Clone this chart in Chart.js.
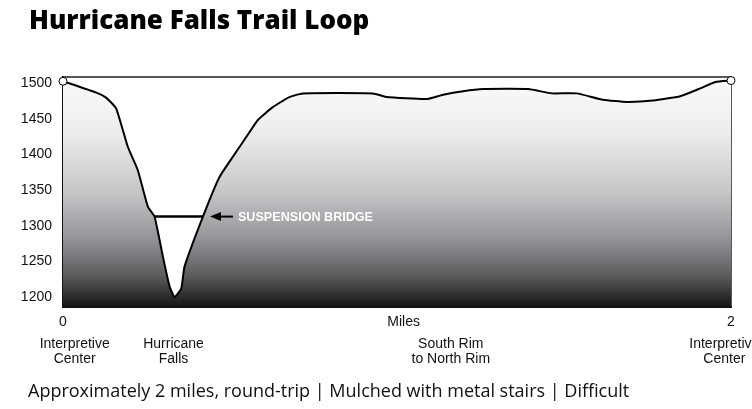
<!DOCTYPE html>
<html>
<head>
<meta charset="utf-8">
<title>Hurricane Falls Trail Loop</title>
<script src="https://cdn.jsdelivr.net/npm/chart.js@4.4.1/dist/chart.umd.min.js"></script>
<style>
  html, body { margin: 0; padding: 0; background: #fff; }
  #wrap { position: relative; width: 752px; height: 409px; overflow: hidden; }
  #chart { position: absolute; left: 0; top: 0; }
  #title {
    position: absolute; left: 29px; top: 6px;
    font: 800 26px "Open Sans", sans-serif; line-height: 1;
    white-space: nowrap; color: #000;
  }
  #footer {
    position: absolute; left: 28px; top: 381px;
    font: 400 18px "Open Sans", sans-serif; line-height: 1;
    white-space: nowrap; color: #111;
  }
</style>
</head>
<body>
<div id="wrap">
  <canvas id="chart" width="752" height="409"></canvas>
  <div id="title">Hurricane Falls Trail Loop</div>
  <div id="footer">Approximately 2 miles, round-trip | Mulched with metal stairs | Difficult</div>
</div>
<script>
// elevation profile (miles along the loop, feet)
const miles = [0, 0.1, 0.129, 0.159, 0.194, 0.224, 0.254, 0.274, 0.299, 0.319, 0.334, 0.354, 0.364,
  0.419, 0.469, 0.529, 0.559, 0.584, 0.629, 0.679, 0.718, 0.928, 0.968, 1.088, 1.138, 1.198, 1.258,
  1.393, 1.463, 1.538, 1.617, 1.688, 1.767, 1.848, 1.908, 1.953, 2.0];
const elevation = [1503, 1487, 1480, 1465, 1411, 1378, 1327, 1313, 1257, 1215, 1200, 1212, 1243,
  1313, 1369, 1411, 1432, 1449, 1467, 1481, 1486, 1486, 1481, 1478, 1484, 1489, 1492,
  1492, 1486, 1486, 1477, 1474, 1476, 1482, 1493, 1502, 1504];

const bridgeMiles = [0.274, 0.419];
const bridgeElevation = [1313, 1313];
const calloutText = 'SUSPENSION BRIDGE';
const calloutMiles = 0.44;
const calloutElevation = 1313;

const yTicks = [1200, 1250, 1300, 1350, 1400, 1450, 1500];
const mileTicks = [0, 1.02, 2];
const mileLabels = ['0', 'Miles', '2'];
const placeMiles = [0.035, 0.331, 1.161, 1.98];
const placeLabels = [
  ['Interpretive', 'Center'],
  ['Hurricane', 'Falls'],
  ['South Rim', 'to North Rim'],
  ['Interpretive', 'Center'],
];

const axisFont = { family: '"Liberation Sans", Arial, sans-serif', size: 14 };

function fillGradient(context) {
  const area = context.chart.chartArea;
  if (!area) return '#999';
  const g = context.chart.ctx.createLinearGradient(0, area.top, 0, area.bottom);
  g.addColorStop(0, '#fbfbfb');
  g.addColorStop(0.25, '#ebecec');
  g.addColorStop(0.5, '#c4c6c8');
  g.addColorStop(0.7, '#939598');
  g.addColorStop(0.87, '#58595b');
  g.addColorStop(1, '#141414');
  return g;
}

const framePlugin = {
  id: 'frame',
  beforeDatasetsDraw(chart) {
    const { ctx, chartArea: a } = chart;
    ctx.save();
    ctx.strokeStyle = '#222';
    ctx.lineWidth = 1.5;
    ctx.beginPath();
    ctx.moveTo(a.left, a.top);
    ctx.lineTo(a.right, a.top);
    ctx.lineTo(a.right, a.bottom);
    ctx.stroke();
    ctx.restore();
  },
  afterDatasetsDraw(chart) {
    const { ctx, scales } = chart;
    const tipX = scales.x.getPixelForValue(calloutMiles);
    const tipY = scales.y.getPixelForValue(calloutElevation);
    ctx.save();
    ctx.fillStyle = '#000';
    ctx.strokeStyle = '#000';
    ctx.lineWidth = 2;
    ctx.beginPath();
    ctx.moveTo(tipX, tipY);
    ctx.lineTo(tipX + 11, tipY - 4.5);
    ctx.lineTo(tipX + 11, tipY + 4.5);
    ctx.closePath();
    ctx.fill();
    ctx.beginPath();
    ctx.moveTo(tipX + 9, tipY);
    ctx.lineTo(tipX + 23, tipY);
    ctx.stroke();
    ctx.fillStyle = '#fff';
    ctx.font = 'bold 12.6px "Liberation Sans", Arial, sans-serif';
    ctx.textBaseline = 'middle';
    ctx.fillText(calloutText, tipX + 28, tipY + 0.5);
    ctx.restore();
  },
};

new Chart(document.getElementById('chart'), {
  type: 'line',
  data: {
    datasets: [
      {
        label: 'Elevation',
        data: miles.map((m, i) => ({ x: m, y: elevation[i] })),
        borderColor: '#000',
        borderWidth: 2,
        backgroundColor: fillGradient,
        fill: 'start',
        tension: 0.15,
        pointRadius: (c) => (c.dataIndex === 0 || c.dataIndex === miles.length - 1 ? 4 : 0),
        pointBackgroundColor: '#fff',
        pointBorderColor: '#000',
        pointBorderWidth: 1,
        clip: false,
      },
      {
        label: 'Bridge',
        data: bridgeMiles.map((m, i) => ({ x: m, y: bridgeElevation[i] })),
        borderColor: '#000',
        borderWidth: 2.5,
        fill: false,
        pointRadius: 0,
      },
    ],
  },
  options: {
    responsive: false,
    animation: false,
    layout: { padding: { left: 20, right: 21, top: 77, bottom: 42 } },
    plugins: { legend: { display: false }, tooltip: { enabled: false } },
    scales: {
      x: {
        type: 'linear',
        position: 'bottom',
        weight: 0,
        min: 0,
        max: 2,
        grid: { display: false, drawTicks: false },
        border: { display: true, color: '#111', width: 2 },
        ticks: {
          autoSkip: false,
          maxRotation: 0,
          padding: 7,
          color: '#111',
          font: axisFont,
          callback: (v, i) => mileLabels[i],
        },
        afterBuildTicks: (s) => { s.ticks = mileTicks.map((v) => ({ value: v })); },
        afterFit: (s) => { s.height = 25; s.paddingLeft = 0; s.paddingRight = 0; },
      },
      places: {
        type: 'linear',
        position: 'bottom',
        weight: 1,
        min: 0,
        max: 2,
        grid: { display: false, drawTicks: false },
        border: { display: false },
        ticks: {
          autoSkip: false,
          maxRotation: 0,
          padding: 5,
          color: '#111',
          font: { ...axisFont, lineHeight: 1.07 },
          callback: (v, i) => placeLabels[i],
        },
        afterBuildTicks: (s) => { s.ticks = placeMiles.map((v) => ({ value: v })); },
        afterFit: (s) => { s.height = 35; s.paddingLeft = 0; s.paddingRight = 0; },
      },
      y: {
        min: 1186,
        max: 1509,
        grid: { display: false, drawTicks: false },
        border: { display: true, color: '#111', width: 2 },
        ticks: { padding: 11, color: '#111', font: axisFont, callback: (v) => String(v) },
        afterBuildTicks: (s) => { s.ticks = yTicks.map((v) => ({ value: v })); },
        afterFit: (s) => { s.width = 43; s.paddingTop = 0; s.paddingBottom = 0; },
      },
    },
  },
  plugins: [framePlugin],
});
</script>
</body>
</html>
